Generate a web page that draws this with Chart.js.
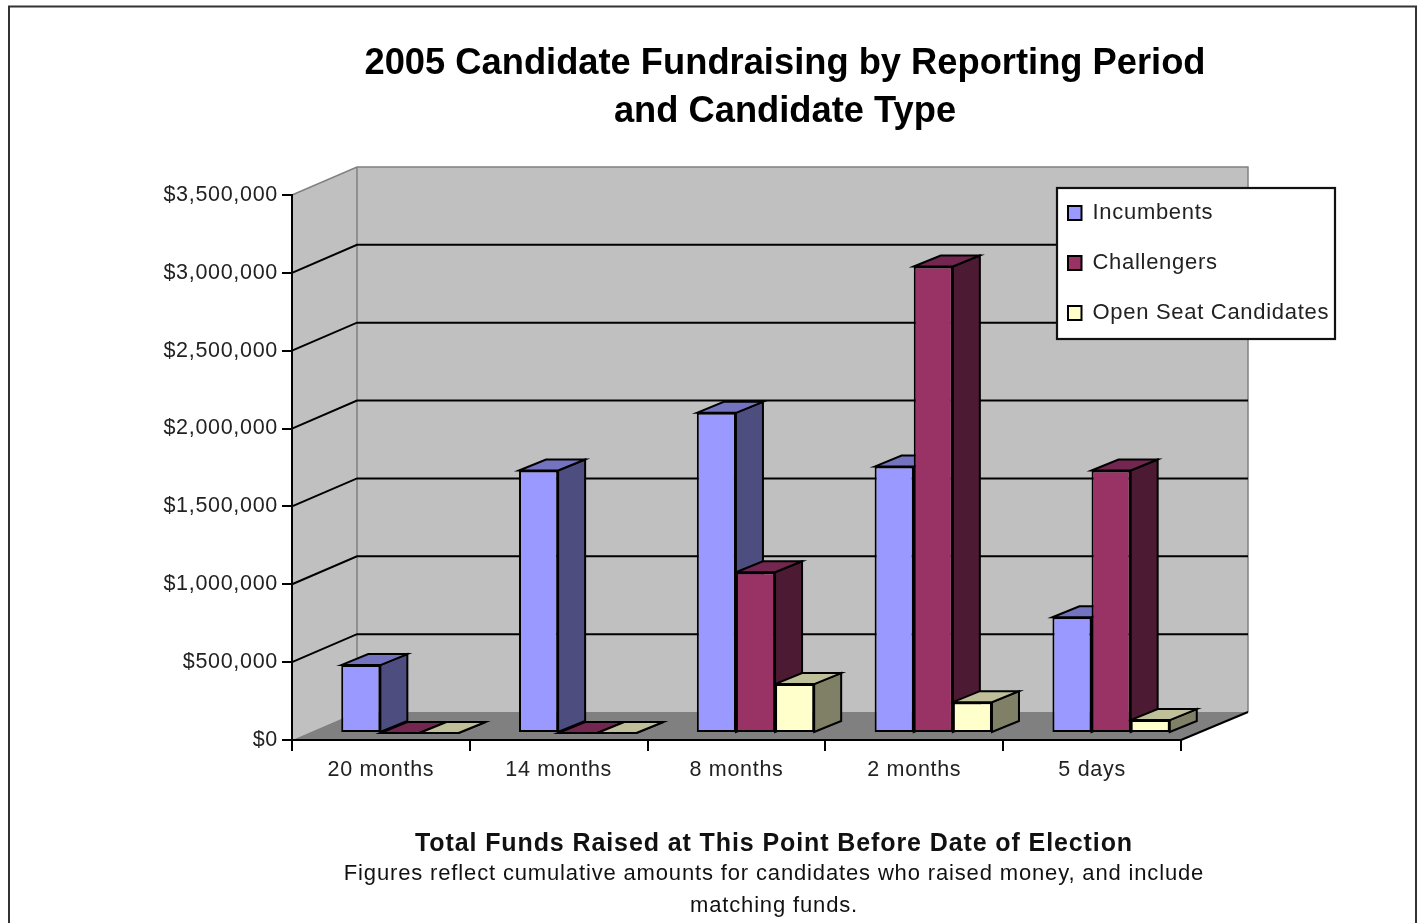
<!DOCTYPE html>
<html>
<head>
<meta charset="utf-8">
<title>2005 Candidate Fundraising</title>
<script src="https://cdn.jsdelivr.net/npm/chart.js@4/dist/chart.umd.min.js"></script>
<style>
html,body{margin:0;padding:0;background:#fff;overflow:hidden}
canvas{display:block;filter:blur(0.55px)}
</style>
</head>
<body>
<canvas id="c" width="1417" height="923"></canvas>
<script>
const categories = ['20 months','14 months','8 months','2 months','5 days'];
const incumbents = [436000,1686000,2056000,1711000,743000];
const challengers = [0,0,1032000,2996000,1686000];
const openSeat = [0,0,314000,198000,83000];
const titleLines = ['2005 Candidate Fundraising by Reporting Period','and Candidate Type'];
const captionBold = 'Total Funds Raised at This Point Before Date of Election';
const captionNote = ['Figures reflect cumulative amounts for candidates who raised money, and include','matching funds.'];

const FONT = "'Liberation Sans', Arial, sans-serif";
Chart.defaults.font.family = FONT;
Chart.defaults.color = '#111';

const WALL_DX = 65, WALL_DY = -28;      // depth of the 3D box
const BAR_DX = 19, BAR_DY = -7;         // bars stand inside the floor
const DEPTH_DX = 27, DEPTH_DY = -11;    // depth of each bar
const LABEL_SPACING = '0.7px';

function poly(ctx, pts, fill, stroke, lw){
  ctx.beginPath();
  pts.forEach((p,i)=> i ? ctx.lineTo(p[0],p[1]) : ctx.moveTo(p[0],p[1]));
  ctx.closePath();
  if(fill){ctx.fillStyle=fill;ctx.fill();}
  if(stroke){ctx.strokeStyle=stroke;ctx.lineWidth=lw||1;ctx.stroke();}
}

const box3d = {
  id:'box3d',
  afterLayout(chart){
    const t = chart.titleBlock;
    t.left = 785 - 600; t.right = 785 + 600;
    if(!t._plainSpacing){
      const drawTitle = t.draw;
      t.draw = function(){
        chart.ctx.letterSpacing='0px';
        drawTitle.apply(this,arguments);
        chart.ctx.letterSpacing=LABEL_SPACING;
      };
      t._plainSpacing = true;
    }
    const lg = chart.legend;
    lg.left = 1040; lg.right = 1335; lg.top = 174; lg.bottom = 600;
  },
  beforeDraw(chart){
    const ctx = chart.ctx, y = chart.scales.y, a = chart.chartArea;
    const L=a.left, R=a.right, T=a.top, B=a.bottom;
    ctx.fillStyle='#fff'; ctx.fillRect(0,0,chart.width,chart.height);
    // page frame
    ctx.strokeStyle='#333'; ctx.lineWidth=2;
    ctx.beginPath(); ctx.moveTo(9,940); ctx.lineTo(9,6.5); ctx.lineTo(1416,6.5); ctx.lineTo(1416,940); ctx.stroke();
    // walls and floor
    poly(ctx,[[L,T],[L+WALL_DX,T+WALL_DY],[L+WALL_DX,B+WALL_DY],[L,B]],'#c0c0c0');
    poly(ctx,[[L+WALL_DX,T+WALL_DY],[R+WALL_DX+2,T+WALL_DY],[R+WALL_DX+2,B+WALL_DY],[L+WALL_DX,B+WALL_DY]],'#c0c0c0');
    poly(ctx,[[L,B],[L+WALL_DX,B+WALL_DY],[R+WALL_DX+2,B+WALL_DY],[R,B]],'#808080');
    // wall edges
    ctx.strokeStyle='#808080'; ctx.lineWidth=1.5;
    ctx.beginPath();
    ctx.moveTo(L,T); ctx.lineTo(L+WALL_DX,T+WALL_DY); ctx.lineTo(R+WALL_DX+2,T+WALL_DY); ctx.lineTo(R+WALL_DX+2,B+WALL_DY);
    ctx.moveTo(L+WALL_DX,T+WALL_DY); ctx.lineTo(L+WALL_DX,B+WALL_DY);
    ctx.stroke();
    // gridlines on both walls
    ctx.strokeStyle='#000'; ctx.lineWidth=2;
    y.ticks.forEach(tk=>{
      if(tk.value===0 || tk.value===y.max) return;
      const py=y.getPixelForValue(tk.value);
      ctx.beginPath();
      ctx.moveTo(L,py); ctx.lineTo(L+WALL_DX,py+WALL_DY); ctx.lineTo(R+WALL_DX+2,py+WALL_DY);
      ctx.stroke();
    });
    // right floor edge
    ctx.beginPath(); ctx.moveTo(R,B); ctx.lineTo(R+WALL_DX+2,B+WALL_DY); ctx.stroke();
    // legend panel
    ctx.fillStyle='#fff'; ctx.fillRect(1057,188,278,151);
    ctx.strokeStyle='#111'; ctx.lineWidth=2.2; ctx.strokeRect(1057,188,278,151);
    ctx.letterSpacing=LABEL_SPACING;
  },
  beforeDatasetsDraw(chart){
    const ctx = chart.ctx;
    const tones = [['#4d4d80','#7373bf'],['#4d1a33','#732650'],['#808066','#bfbf99']];
    ctx.save();
    ctx.translate(BAR_DX,BAR_DY);
    const n = categories.length;
    for(let i=0;i<n;i++){
      chart.data.datasets.forEach((ds,d)=>{
        const el = chart.getDatasetMeta(d).data[i];
        const l = el.x-el.width/2, r = el.x+el.width/2, t = el.y, b = el.base;
        poly(ctx,[[r,t],[r+DEPTH_DX,t+DEPTH_DY],[r+DEPTH_DX,b+DEPTH_DY],[r,b]],tones[d][0],'#000',2);
        poly(ctx,[[l,t],[l+DEPTH_DX,t+DEPTH_DY],[r+DEPTH_DX,t+DEPTH_DY],[r,t]],tones[d][1],'#000',2);
      });
    }
    ctx.restore();
    ctx.save();
    ctx.translate(BAR_DX,BAR_DY);
  },
  afterDatasetsDraw(chart){
    chart.ctx.restore();
    // caption below the axis
    const ctx = chart.ctx;
    ctx.save();
    ctx.textAlign='center'; ctx.textBaseline='middle'; ctx.fillStyle='#111';
    ctx.font='bold 25px '+FONT; ctx.letterSpacing='0.9px';
    ctx.fillText(captionBold,774,844);
    ctx.font='22px '+FONT; ctx.letterSpacing='0.85px';
    ctx.fillText(captionNote[0],774,874);
    ctx.fillText(captionNote[1],774,906);
    ctx.restore();
  }
};

const money = v => '$' + Number(v).toLocaleString('en-US');

new Chart(document.getElementById('c'),{
  type:'bar',
  data:{
    labels:categories,
    datasets:[
      {label:'Incumbents',data:incumbents,backgroundColor:'#9999ff'},
      {label:'Challengers',data:challengers,backgroundColor:'#993366'},
      {label:'Open Seat Candidates',data:openSeat,backgroundColor:'#ffffcc'}
    ].map(d=>Object.assign(d,{borderColor:'#000',borderWidth:2,borderSkipped:false,clip:false,categoryPercentage:0.66,barPercentage:1}))
  },
  options:{
    responsive:false,
    animation:false,
    layout:{padding:{left:0,top:0,right:236,bottom:0}},
    plugins:{
      tooltip:{enabled:false},
      title:{display:true,text:titleLines,color:'#000',font:{size:36.3,weight:'bold',lineHeight:1.322},padding:{top:40,bottom:59}},
      legend:{position:'chartArea',align:'start',labels:{boxWidth:13.5,boxHeight:14,padding:28,color:'#222',font:{size:22}}}
    },
    scales:{
      x:{
        grid:{drawOnChartArea:false,drawTicks:true,tickLength:11,color:'#000',lineWidth:2,offset:true},
        border:{color:'#000',width:2},
        ticks:{color:'#222',font:{size:21.5},padding:6,maxRotation:0},
        afterFit(s){s.height=183;}
      },
      y:{
        min:0,max:3500000,
        grid:{drawOnChartArea:false,drawTicks:true,tickLength:10,color:'#000',lineWidth:2},
        border:{color:'#000',width:2},
        ticks:{color:'#222',font:{size:21.5},padding:4,stepSize:500000,callback:money},
        afterFit(s){s.width=292;}
      }
    }
  },
  plugins:[box3d]
});
</script>
</body>
</html>
